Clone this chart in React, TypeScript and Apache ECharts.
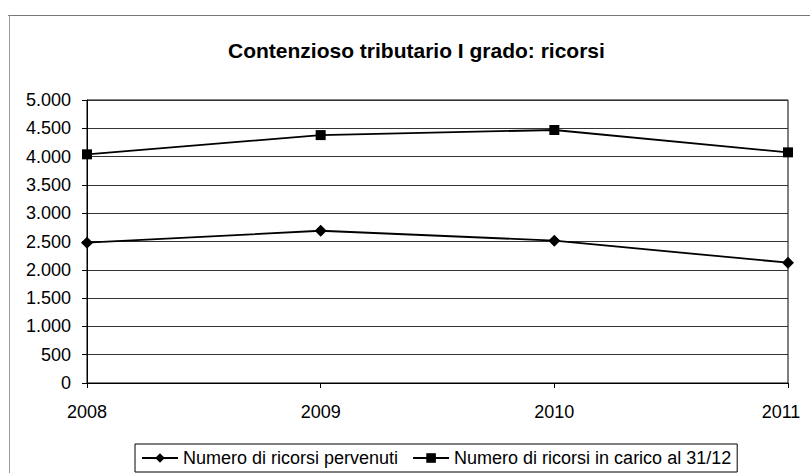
import React, { useEffect, useRef } from "react";
import * as echarts from "echarts";

const categories = ["2008", "2009", "2010", "2011"];
const pervenuti = [2480, 2690, 2515, 2125];
const inCarico = [4040, 4380, 4470, 4075];
const yTicks = { min: 0, max: 5000, interval: 500 };
const seriesNames = ["Numero di ricorsi pervenuti", "Numero di ricorsi in carico al 31/12"];
const titleText = "Contenzioso tributario I grado: ricorsi";

const FONT = "'Liberation Sans', Arial, sans-serif";

function fmt(v: number): string {
  return String(v).replace(/\B(?=(\d{3})+(?!\d))/g, ".");
}

export default function App() {
  const ref = useRef<HTMLDivElement>(null);
  useEffect(() => {
    document.body.style.margin = "0";
    if (!ref.current) return;
    const chart = echarts.init(ref.current, undefined, { renderer: "svg" });
    chart.setOption({
      animation: false,
      backgroundColor: "#fff",
      textStyle: { fontFamily: FONT },
      title: {
        text: titleText,
        left: 223,
        top: 35,
        textStyle: { fontFamily: FONT, fontSize: 21, fontWeight: "bold", color: "#000" },
      },
      graphic: [
        { type: "line", shape: { x1: 8, y1: 15.5, x2: 810, y2: 15.5 }, style: { stroke: "#777", lineWidth: 1 } },
        { type: "line", shape: { x1: 9.5, y1: 15, x2: 9.5, y2: 473 }, style: { stroke: "#999", lineWidth: 1 } },
      ],
      legend: {
        left: 135,
        top: 444,
        padding: [5, 6, 5, 6],
        borderColor: "#000",
        borderWidth: 1,
        itemWidth: 36,
        itemHeight: 12,
        itemGap: 14,
        textStyle: { fontFamily: FONT, fontSize: 18, color: "#000" },
        data: seriesNames,
      },
      grid: {
        left: 87,
        right: 22,
        top: 100,
        bottom: 90,
        show: true,
        borderColor: "#000",
        borderWidth: 1,
        containLabel: false,
      },
      xAxis: {
        type: "category",
        data: categories,
        boundaryGap: false,
        axisLine: { lineStyle: { color: "#000", width: 1 } },
        axisTick: { show: true, length: 5, inside: false, lineStyle: { color: "#000" } },
        axisLabel: {
          color: "#000",
          fontSize: 18,
          fontFamily: FONT,
          margin: 20,
          formatter: (v: string, i: number) => (i === categories.length - 1 ? `{last|${v}}` : v),
          rich: {
            last: { fontSize: 18, fontFamily: FONT, color: "#000", padding: [0, 14, 0, 0] },
          },
        },
        splitLine: { show: false },
      },
      yAxis: {
        type: "value",
        min: yTicks.min,
        max: yTicks.max,
        interval: yTicks.interval,
        axisLine: { show: true, lineStyle: { color: "#000", width: 1 } },
        axisTick: { show: true, length: 5, lineStyle: { color: "#000" } },
        axisLabel: { color: "#000", fontSize: 18, fontFamily: FONT, margin: 16, formatter: (v: number) => fmt(v) },
        splitLine: { show: true, lineStyle: { color: "#333", width: 1 } },
      },
      series: [
        {
          name: seriesNames[0],
          type: "line",
          data: pervenuti,
          symbol: "diamond",
          symbolSize: 12,
          itemStyle: { color: "#000" },
          lineStyle: { color: "#000", width: 1.8 },
        },
        {
          name: seriesNames[1],
          type: "line",
          data: inCarico,
          symbol: "rect",
          symbolSize: 10,
          itemStyle: { color: "#000" },
          lineStyle: { color: "#000", width: 1.8 },
        },
      ],
    });
    return () => chart.dispose();
  }, []);
  return <div ref={ref} style={{ width: 810, height: 473 }} />;
}
